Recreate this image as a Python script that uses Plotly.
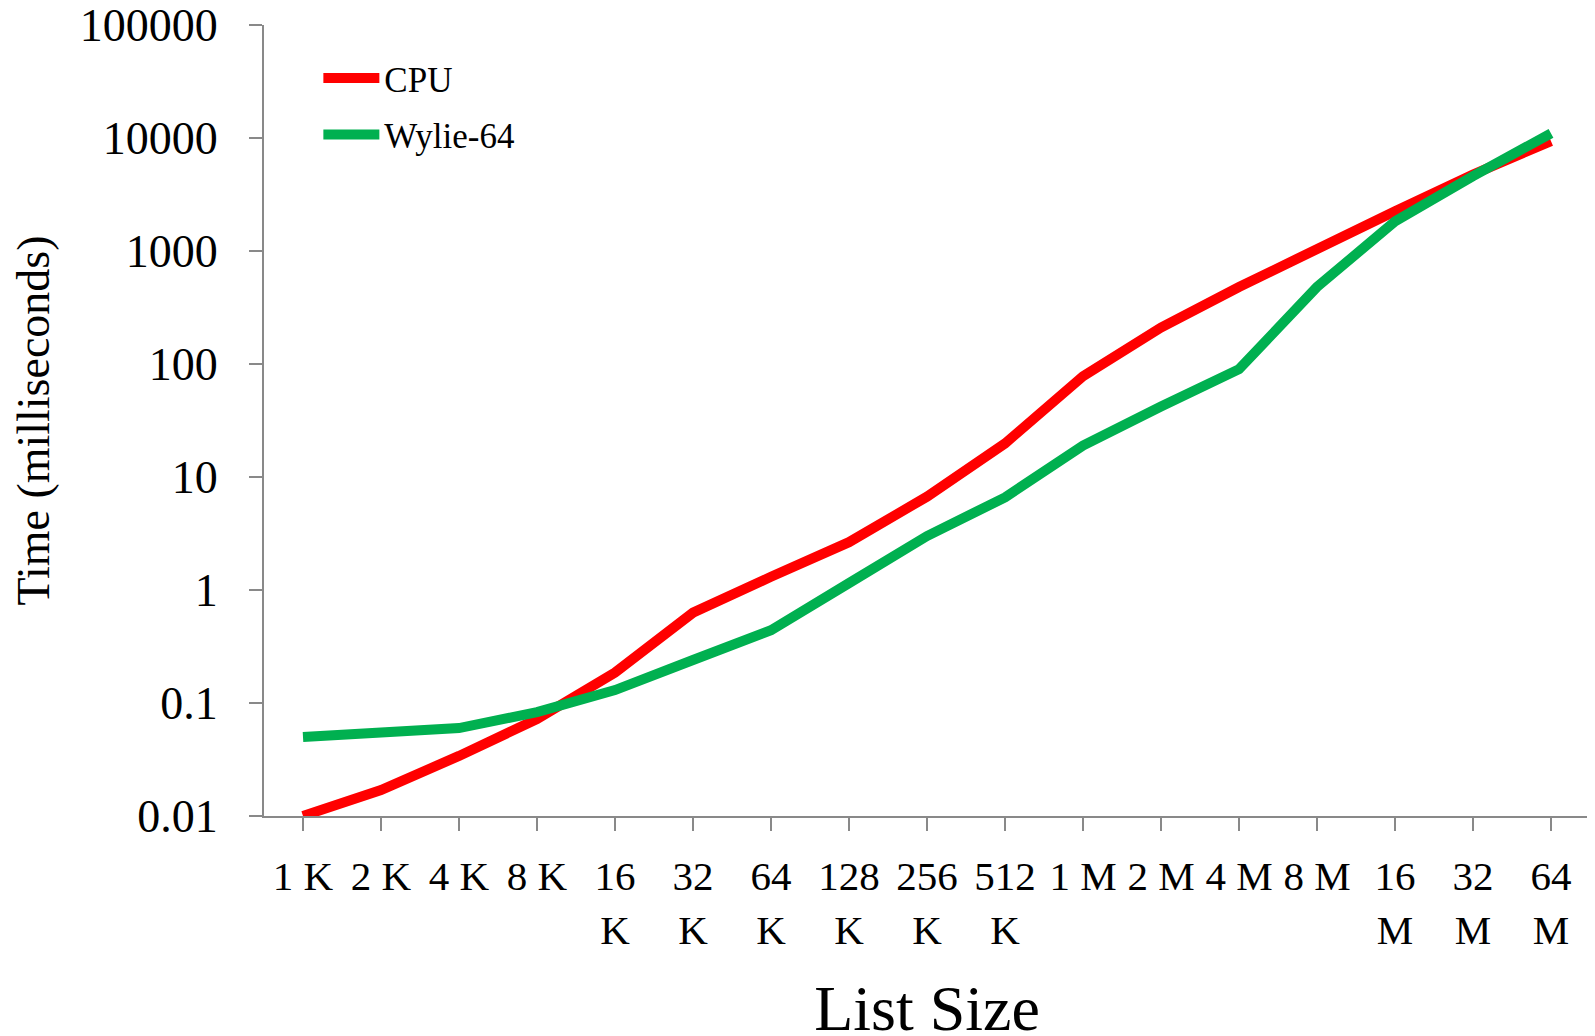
import plotly.graph_objects as go

categories = ["1 K", "2 K", "4 K", "8 K", "16<br>K", "32<br>K", "64<br>K", "128<br>K",
              "256<br>K", "512<br>K", "1 M", "2 M", "4 M", "8 M", "16<br>M", "32<br>M", "64<br>M"]
cpu_ms = [0.01, 0.017, 0.034, 0.072, 0.186, 0.63, 1.31, 2.65, 6.7, 19.8, 78, 210, 480,
          1060, 2250, 4750, 9400]
wylie_ms = [0.050, 0.054, 0.060, 0.083, 0.13, 0.24, 0.44, 1.15, 3.0, 6.6, 19, 42, 90,
            480, 1830, 4600, 11000]
y_tickvals = [0.01, 0.1, 1, 10, 100, 1000, 10000, 100000]
y_ticktext = ["0.01", "0.1", "1", "10", "100", "1000", "10000", "100000"]

FONT = "Times New Roman, Liberation Serif, serif"
AX = "#898989"

x_idx = list(range(len(categories)))

fig = go.Figure()
fig.add_trace(go.Scatter(x=x_idx, y=cpu_ms, mode="lines", name="CPU", legendgroup="a",
                         line=dict(color="#FF0000", width=10)))
fig.add_trace(go.Scatter(x=x_idx, y=wylie_ms, mode="lines", name="Wylie-64", legendgroup="b",
                         line=dict(color="#00B050", width=10)))

fig.update_layout(
    width=1595, height=1036,
    margin=dict(l=256, r=13, t=17, b=228),
    plot_bgcolor="white", paper_bgcolor="white",
    font=dict(family=FONT, color="black"),
    showlegend=True,
    legend=dict(x=0.041, y=0.97, xanchor="left", yanchor="top",
                font=dict(family=FONT, size=35), bgcolor="rgba(0,0,0,0)",
                tracegroupgap=8, itemwidth=56),
    xaxis=dict(
        range=[-0.5, 16.5], tickmode="array", tickvals=x_idx, ticktext=categories,
        showgrid=False, zeroline=False, showline=True, linecolor=AX, linewidth=2,
        ticks="outside", ticklen=13, tickcolor=AX, tickwidth=2, automargin=False,
        tickfont=dict(family=FONT, size=41), ticklabelstandoff=10,
        title=dict(text="List Size", font=dict(family=FONT, size=64), standoff=46),
    ),
    yaxis=dict(
        type="log", range=[-2, 5], tickmode="array", tickvals=y_tickvals, ticktext=y_ticktext,
        showgrid=False, zeroline=False, showline=True, linecolor=AX, linewidth=2,
        ticks="outside", ticklen=13, tickcolor=AX, tickwidth=2, automargin=False,
        ticklabeloverflow="allow",
        tickfont=dict(family=FONT, size=46), ticklabelstandoff=22,
        title=dict(text="Time (milliseconds)", font=dict(family=FONT, size=46), standoff=18),
    ),
)

# category boundary ticks like Excel
fig.update_xaxes(tickson="boundaries")

fig.write_html("out.html")
